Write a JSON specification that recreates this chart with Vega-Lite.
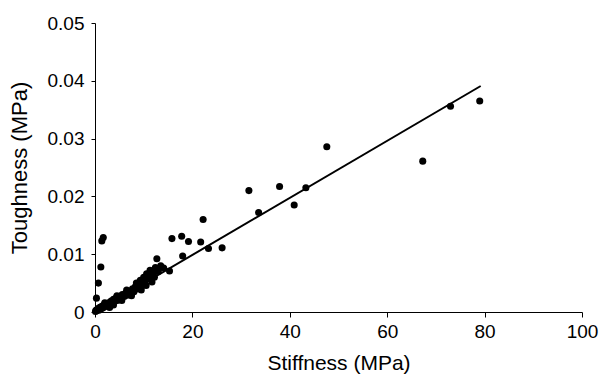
{
  "$schema": "https://vega.github.io/schema/vega-lite/v6.json",
  "autosize": "none",
  "width": 487,
  "height": 289,
  "padding": {"left": 95, "top": 23, "right": 20, "bottom": 63},
  "background": "white",
  "config": {
    "view": {"stroke": null},
    "font": "Liberation Sans",
    "axis": {
      "grid": false,
      "domainColor": "black",
      "tickColor": "black",
      "domainWidth": 1,
      "tickWidth": 1,
      "tickSize": 5,
      "labelFont": "Liberation Sans",
      "labelFontSize": 19,
      "labelColor": "black",
      "labelFlush": false,
      "labelOverlap": false,
      "titleFont": "Liberation Sans",
      "titleFontSize": 21,
      "titleFontWeight": "normal",
      "titleColor": "black"
    }
  },
  "datasets": {
    "pts": [
      {"x": 0.1, "y": 0.0001}, {"x": 0.2, "y": 0.0003}, {"x": 0.3, "y": 0.0002}, {"x": 0.5, "y": 0.0004},
      {"x": 0.6, "y": 0.0006}, {"x": 0.8, "y": 0.0003}, {"x": 1.0, "y": 0.0008}, {"x": 1.2, "y": 0.0005},
      {"x": 1.4, "y": 0.0010}, {"x": 1.6, "y": 0.0007}, {"x": 1.8, "y": 0.0012}, {"x": 2.0, "y": 0.0009},
      {"x": 2.3, "y": 0.0014}, {"x": 2.5, "y": 0.0011}, {"x": 2.8, "y": 0.0016}, {"x": 3.0, "y": 0.0013},
      {"x": 3.3, "y": 0.0019}, {"x": 3.5, "y": 0.0015}, {"x": 3.8, "y": 0.0022}, {"x": 3.8, "y": 0.0012},
      {"x": 4.0, "y": 0.0018}, {"x": 4.3, "y": 0.0024}, {"x": 4.6, "y": 0.0020}, {"x": 5.0, "y": 0.0027},
      {"x": 5.3, "y": 0.0024}, {"x": 5.6, "y": 0.0030}, {"x": 6.0, "y": 0.0027}, {"x": 6.3, "y": 0.0033},
      {"x": 6.6, "y": 0.0029}, {"x": 7.0, "y": 0.0036}, {"x": 7.3, "y": 0.0032}, {"x": 7.7, "y": 0.0040},
      {"x": 8.0, "y": 0.0035}, {"x": 8.3, "y": 0.0044}, {"x": 8.6, "y": 0.0040}, {"x": 9.0, "y": 0.0048},
      {"x": 9.3, "y": 0.0055}, {"x": 9.6, "y": 0.0045}, {"x": 10.0, "y": 0.0060}, {"x": 10.3, "y": 0.0052},
      {"x": 10.6, "y": 0.0066}, {"x": 11.0, "y": 0.0058}, {"x": 11.3, "y": 0.0072}, {"x": 11.7, "y": 0.0052},
      {"x": 12.0, "y": 0.0067}, {"x": 12.4, "y": 0.0077}, {"x": 12.7, "y": 0.0092}, {"x": 13.0, "y": 0.0070},
      {"x": 14.1, "y": 0.0076}, {"x": 15.3, "y": 0.0071},
      {"x": 2.0, "y": 0.0016}, {"x": 3.0, "y": 0.0008}, {"x": 4.5, "y": 0.0028}, {"x": 5.5, "y": 0.0020},
      {"x": 6.5, "y": 0.0038}, {"x": 7.5, "y": 0.0028}, {"x": 8.5, "y": 0.0050}, {"x": 9.5, "y": 0.0038},
      {"x": 10.5, "y": 0.0046}, {"x": 11.0, "y": 0.0065}, {"x": 12.2, "y": 0.0060}, {"x": 13.5, "y": 0.0080},
      {"x": 0.3, "y": 0.0024}, {"x": 0.7, "y": 0.0050}, {"x": 1.2, "y": 0.0078}, {"x": 1.4, "y": 0.0123},
      {"x": 1.7, "y": 0.0129},
      {"x": 15.8, "y": 0.0127}, {"x": 17.8, "y": 0.0131}, {"x": 19.2, "y": 0.0122}, {"x": 18.0, "y": 0.0097},
      {"x": 21.7, "y": 0.0121}, {"x": 22.2, "y": 0.0160}, {"x": 23.3, "y": 0.0110}, {"x": 26.1, "y": 0.0111},
      {"x": 31.6, "y": 0.0210}, {"x": 33.6, "y": 0.0172}, {"x": 37.9, "y": 0.0217}, {"x": 40.9, "y": 0.0185},
      {"x": 43.3, "y": 0.0215}, {"x": 47.6, "y": 0.0286}, {"x": 67.3, "y": 0.0261}, {"x": 73.0, "y": 0.0356},
      {"x": 79.0, "y": 0.0365}
    ],
    "fit": [
      {"x": 0, "y": 0}, {"x": 79.2, "y": 0.0391}
    ]
  },
  "layer": [
    {
      "data": {"name": "fit"},
      "mark": {"type": "line", "color": "black", "strokeWidth": 2},
      "encoding": {
        "x": {"field": "x", "type": "quantitative", "scale": {"domain": [0, 100], "nice": false}},
        "y": {"field": "y", "type": "quantitative", "scale": {"domain": [0, 0.05], "nice": false}}
      }
    },
    {
      "data": {"name": "pts"},
      "mark": {"type": "point", "filled": true, "color": "black", "opacity": 1, "size": 50},
      "encoding": {
        "x": {"field": "x", "type": "quantitative", "title": "Stiffness (MPa)",
              "axis": {"values": [0, 20, 40, 60, 80, 100], "labelPadding": 5, "titlePadding": 11}},
        "y": {"field": "y", "type": "quantitative", "title": "Toughness (MPa)",
              "axis": {"values": [0, 0.01, 0.02, 0.03, 0.04, 0.05], "format": ".2~f", "tickSize": 4, "labelPadding": 7, "titlePadding": 16, "titleFontSize": 22}}
      }
    }
  ]
}
